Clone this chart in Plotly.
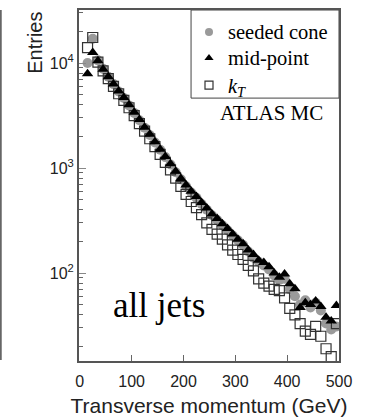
import plotly.graph_objects as go

pt_gev = [15, 25, 35, 45, 55, 65, 75, 85, 95, 105, 115, 125, 135, 145, 155, 165, 175, 185, 195,
          205, 215, 225, 235, 245, 255, 265, 275, 285, 295, 305, 315, 325, 335, 345, 355, 365,
          375, 385, 395, 405, 415, 425, 435, 445, 455, 465, 475, 485, 495]

seeded_cone = [10000, 17000, 10600, 8800, 7400, 6300, 5350, 4650, 3950, 3350, 2850, 2420, 2060,
               1750, 1490, 1270, 1080, 910, 780, 670, 585, 520, 455, 400, 355, 320, 285, 255,
               228, 205, 185, 160, 140, 128, 118, 108, 95, 86, 88, 70, 60, 50, 55, 47, 52, 44,
               33, 29, 31]

mid_point = [7900, 12600, 10500, 8700, 7400, 6300, 5400, 4700, 4000, 3400, 2900, 2450, 2100,
             1780, 1510, 1290, 1100, 930, 795, 690, 600, 535, 470, 415, 365, 330, 295, 265,
             235, 210, 190, 166, 150, 132, 126, 115, 100, 91, 98, 79, 71, 47, 52, 50, 54, 48,
             38, 35, 49]

kt = [14000, 17500, 10200, 8400, 7100, 6000, 5100, 4400, 3750, 3150, 2650, 2250, 1900, 1600,
      1350, 1130, 960, 800, 670, 560, 480, 420, 360, 300, 260, 235, 210, 185, 165, 150, 135,
      118, 105, 88, 80, 75, 70, 68, 58, 46, 40, 33, 28, 26, 31, 25, 19, 16, 33]

series_names = ["seeded cone", "mid-point", "<i>k<sub>T</sub></i>"]

x_ticks = [0, 100, 200, 300, 400, 500]
y_ticks = [100, 1000, 10000]
y_tick_text = ["10<sup>2</sup>", "10<sup>3</sup>", "10<sup>4</sup>"]
y_minor = [20, 30, 40, 50, 60, 70, 80, 90, 200, 300, 400, 500, 600, 700, 800, 900,
           2000, 3000, 4000, 5000, 6000, 7000, 8000, 9000, 20000, 30000]

serif = "Liberation Serif, Times New Roman, serif"
sans = "Liberation Sans, Arial, sans-serif"

styles = [
    dict(symbol="circle", color="#9a9a9a", line=dict(width=0)),
    dict(symbol="triangle-up", color="black", line=dict(width=0)),
    dict(symbol="square-open", color="#333333", line=dict(width=1.2)),
]

fig = go.Figure()
# drawing order: circles, squares, triangles
fig.add_trace(go.Scatter(x=pt_gev, y=seeded_cone, mode="markers", name="seeded cone",
                         marker=dict(size=10, **styles[0])))
fig.add_trace(go.Scatter(x=pt_gev, y=kt, mode="markers", name="kT",
                         marker=dict(size=10, **styles[2])))
fig.add_trace(go.Scatter(x=pt_gev, y=mid_point, mode="markers", name="mid-point",
                         marker=dict(size=10, **styles[1])))

# hand-drawn legend (box, symbols on an overlay axis, texts as annotations)
leg_x_sym = 0.5
leg_x_txt = 0.565
leg_rows = [0.937, 0.863, 0.786]
for i in range(3):
    fig.add_trace(go.Scatter(x=[leg_x_sym], y=[leg_rows[i]], xaxis="x2", yaxis="y2",
                             mode="markers", hoverinfo="skip",
                             marker=dict(size=8, **styles[i])))

annotations = [
    dict(text="Entries", xref="paper", yref="paper", x=-0.17, y=1.0,
         xanchor="center", yanchor="top", textangle=-90, showarrow=False,
         font=dict(family=sans, size=20, color="#222")),
    dict(text="ATLAS MC", xref="paper", yref="paper", x=0.74, y=0.706,
         xanchor="center", yanchor="middle", showarrow=False,
         font=dict(family=serif, size=21, color="black")),
    dict(text="all jets", xref="paper", yref="paper", x=0.308, y=0.158,
         xanchor="center", yanchor="middle", showarrow=False,
         font=dict(family=serif, size=35, color="black")),
]
for i in range(3):
    annotations.append(dict(text=series_names[i], xref="paper", yref="paper",
                            x=leg_x_txt, y=leg_rows[i] - (0.007 if i == 2 else 0),
                            xanchor="left", yanchor="middle", showarrow=False,
                            font=dict(family=serif, size=20.5, color="black")))

fig.update_layout(
    width=368, height=417,
    margin=dict(l=79, r=29, t=10, b=56),
    paper_bgcolor="white", plot_bgcolor="white",
    showlegend=False,
    xaxis=dict(range=[-1.5, 500], tickvals=x_ticks, ticks="inside", ticklen=6,
               tickcolor="#666", tickwidth=1, ticklabelstandoff=5, automargin=False,
               showline=True, linecolor="#555", linewidth=2, mirror=True,
               showgrid=False, zeroline=False,
               tickfont=dict(family=sans, size=16, color="#222"),
               title=dict(text="Transverse momentum (GeV)", standoff=12,
                          font=dict(family=sans, size=21, color="#222"))),
    yaxis=dict(type="log", range=[1.162, 4.505], tickvals=y_ticks, ticktext=y_tick_text,
               ticks="inside", ticklen=7, tickcolor="#888", tickwidth=1, automargin=False,
               minor=dict(tickvals=y_minor, ticks="inside", ticklen=4, tickcolor="#666"),
               showline=True, linecolor="#555", linewidth=2, mirror=True,
               showgrid=False, zeroline=False,
               tickfont=dict(family=sans, size=16, color="#222")),
    xaxis2=dict(range=[0, 1], overlaying="x", visible=False, fixedrange=True),
    yaxis2=dict(range=[0, 1], overlaying="y", visible=False, fixedrange=True),
    annotations=annotations,
    shapes=[
        dict(type="line", xref="paper", yref="paper", x0=-0.301, x1=-0.301, y0=0.003, y1=1.0,
             line=dict(color="#666", width=2)),
        dict(type="rect", xref="paper", yref="paper", x0=0.431, x1=1.0, y0=0.749, y1=1.0,
             line=dict(color="#444", width=1), fillcolor="white", layer="below"),
    ],
)

fig.write_html("out.html")
